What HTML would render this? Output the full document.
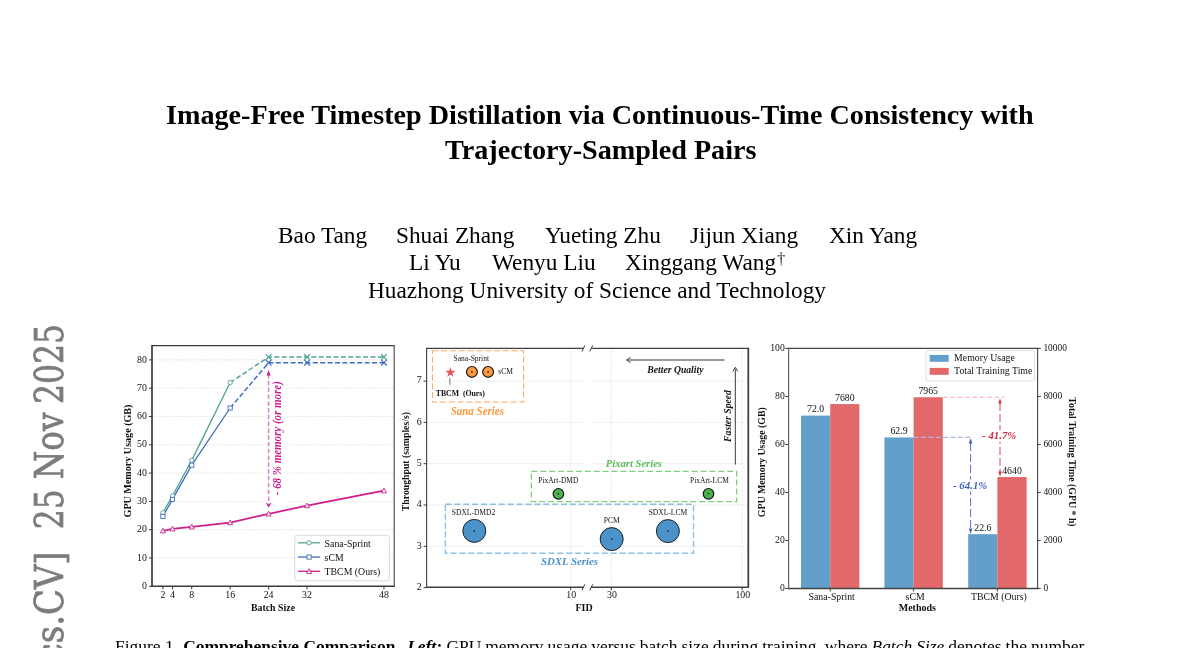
<!DOCTYPE html>
<html lang="en"><head><meta charset="utf-8"><title>Image-Free Timestep Distillation</title>
<style>
html,body{margin:0;padding:0;background:#fff;}
body{width:1200px;height:648px;overflow:hidden;position:relative;font-family:"Liberation Serif",serif;color:#000;}
.t{position:absolute;white-space:nowrap;line-height:1;}
.title{font-weight:bold;font-size:28.17px;}
.au{font-size:23.3px;}
.cap{font-size:17.45px;}
svg{position:absolute;left:0;top:0;will-change:transform;}
.t{will-change:transform;}
svg text{font-family:"Liberation Serif",serif;}
</style></head><body>

<div class="t title" style="left:166.4px;top:100.57px;">Image-Free Timestep Distillation via Continuous-Time Consistency with</div>
<div class="t title" style="left:445.2px;top:136.47px;">Trajectory-Sampled Pairs</div>
<div class="t au" style="left:277.5px;top:223.99px;">Bao Tang</div>
<div class="t au" style="left:396px;top:223.99px;">Shuai Zhang</div>
<div class="t au" style="left:545px;top:223.99px;">Yueting Zhu</div>
<div class="t au" style="left:690px;top:223.99px;">Jijun Xiang</div>
<div class="t au" style="left:828.5px;top:223.99px;">Xin Yang</div>
<div class="t au" style="left:409px;top:251.49px;">Li Yu</div>
<div class="t au" style="left:492px;top:251.49px;">Wenyu Liu</div>
<div class="t au" style="left:625px;top:251.49px;">Xinggang Wang<sup style="font-size:17.5px;line-height:0;vertical-align:5.6px;margin-left:0.6px;color:#3a3a3a">†</sup></div>
<div class="t au" style="left:367.5px;top:278.99px;">Huazhong University of Science and Technology</div>
<div class="t cap" style="left:114.6px;top:637.79px;"><span style="margin-right:0.8px">Figure 1.</span> <b>Comprehensive Comparison.</b> <b style="margin-left:3px"><i>Left:</i></b> <span style="word-spacing:-0.33px">GPU memory usage versus batch size during training, where <i>Batch Size</i> denotes the number</span></div>
<svg width="1200" height="648" viewBox="0 0 1200 648">
<text transform="translate(63.3,404.0) rotate(-90)" style="font-family:'DejaVu Serif',serif" font-size="38.9" textLength="80.0" lengthAdjust="spacingAndGlyphs" fill="#7c7c7c" stroke="#7c7c7c" stroke-width="0.7">2025</text>
<text transform="translate(63.3,479.2) rotate(-90)" style="font-family:'DejaVu Serif',serif" font-size="38.9" textLength="66.6" lengthAdjust="spacingAndGlyphs" fill="#7c7c7c" stroke="#7c7c7c" stroke-width="0.7">Nov</text>
<text transform="translate(63.3,529.2) rotate(-90)" style="font-family:'DejaVu Serif',serif" font-size="38.9" textLength="40.0" lengthAdjust="spacingAndGlyphs" fill="#7c7c7c" stroke="#7c7c7c" stroke-width="0.7">25</text>
<text transform="translate(63.3,675.4) rotate(-90)" style="font-family:'DejaVu Serif',serif" font-size="38.9" textLength="124" lengthAdjust="spacingAndGlyphs" fill="#7c7c7c" stroke="#7c7c7c" stroke-width="0.7">[cs.CV]</text>
<text transform="translate(63.3,1040) rotate(-90)" style="font-family:'DejaVu Serif',serif" font-size="38.9" textLength="340" lengthAdjust="spacingAndGlyphs" fill="#7c7c7c" stroke="#7c7c7c" stroke-width="0.7">arXiv:2511.20410v1</text>
<line x1="152.00" y1="558.00" x2="394.20" y2="558.00" stroke="#d4d4d4" stroke-width="0.8" stroke-dasharray="1.2 1.2" opacity="0.9"/>
<line x1="152.00" y1="529.70" x2="394.20" y2="529.70" stroke="#d4d4d4" stroke-width="0.8" stroke-dasharray="1.2 1.2" opacity="0.9"/>
<line x1="152.00" y1="501.40" x2="394.20" y2="501.40" stroke="#d4d4d4" stroke-width="0.8" stroke-dasharray="1.2 1.2" opacity="0.9"/>
<line x1="152.00" y1="473.10" x2="394.20" y2="473.10" stroke="#d4d4d4" stroke-width="0.8" stroke-dasharray="1.2 1.2" opacity="0.9"/>
<line x1="152.00" y1="444.80" x2="394.20" y2="444.80" stroke="#d4d4d4" stroke-width="0.8" stroke-dasharray="1.2 1.2" opacity="0.9"/>
<line x1="152.00" y1="416.50" x2="394.20" y2="416.50" stroke="#d4d4d4" stroke-width="0.8" stroke-dasharray="1.2 1.2" opacity="0.9"/>
<line x1="152.00" y1="388.20" x2="394.20" y2="388.20" stroke="#d4d4d4" stroke-width="0.8" stroke-dasharray="1.2 1.2" opacity="0.9"/>
<line x1="152.00" y1="359.90" x2="394.20" y2="359.90" stroke="#d4d4d4" stroke-width="0.8" stroke-dasharray="1.2 1.2" opacity="0.9"/>
<polyline fill="none" stroke="#4fa392" stroke-width="1.4" stroke-dasharray="5 2.4" points="230.17,382.54 268.61,357.07 307.05,357.07 383.93,357.07"/>
<polyline fill="none" stroke="#3f6cc0" stroke-width="1.5" stroke-dasharray="5 2.4" points="230.17,408.01 268.61,362.73 307.05,362.73 383.93,362.73"/>
<polyline fill="none" stroke="#4fa392" stroke-width="1.3"  points="162.90,512.72 172.51,495.74 191.73,460.36 230.17,382.54"/>
<polyline fill="none" stroke="#3f6cc0" stroke-width="1.3"  points="162.90,516.40 172.51,499.42 191.73,465.18 230.17,408.01"/>
<polyline fill="none" stroke="#cc1f8a" stroke-width="1.7"  points="162.90,530.83 172.51,528.85 191.73,526.87 230.17,522.62 268.61,513.85 307.05,505.64 383.93,490.65"/>
<circle cx="162.90" cy="512.72" r="2.2" fill="#fff" stroke="#4fa392" stroke-width="0.9"/>
<circle cx="172.51" cy="495.74" r="2.2" fill="#fff" stroke="#4fa392" stroke-width="0.9"/>
<circle cx="191.73" cy="460.36" r="2.2" fill="#fff" stroke="#4fa392" stroke-width="0.9"/>
<circle cx="230.17" cy="382.54" r="2.2" fill="#fff" stroke="#4fa392" stroke-width="0.9"/>
<rect x="160.80" y="514.30" width="4.2" height="4.2" fill="#fff" stroke="#3f6cc0" stroke-width="0.9"/>
<rect x="170.41" y="497.32" width="4.2" height="4.2" fill="#fff" stroke="#3f6cc0" stroke-width="0.9"/>
<rect x="189.63" y="463.08" width="4.2" height="4.2" fill="#fff" stroke="#3f6cc0" stroke-width="0.9"/>
<rect x="228.07" y="405.91" width="4.2" height="4.2" fill="#fff" stroke="#3f6cc0" stroke-width="0.9"/>
<path d="M162.90,528.23 L165.40,532.93 L160.40,532.93 Z" fill="#fff" stroke="#cc1f8a" stroke-width="0.9"/>
<path d="M172.51,526.25 L175.01,530.95 L170.01,530.95 Z" fill="#fff" stroke="#cc1f8a" stroke-width="0.9"/>
<path d="M191.73,524.27 L194.23,528.97 L189.23,528.97 Z" fill="#fff" stroke="#cc1f8a" stroke-width="0.9"/>
<path d="M230.17,520.02 L232.67,524.73 L227.67,524.73 Z" fill="#fff" stroke="#cc1f8a" stroke-width="0.9"/>
<path d="M268.61,511.25 L271.11,515.95 L266.11,515.95 Z" fill="#fff" stroke="#cc1f8a" stroke-width="0.9"/>
<path d="M307.05,503.04 L309.55,507.75 L304.55,507.75 Z" fill="#fff" stroke="#cc1f8a" stroke-width="0.9"/>
<path d="M383.93,488.05 L386.43,492.75 L381.43,492.75 Z" fill="#fff" stroke="#cc1f8a" stroke-width="0.9"/>
<path d="M265.81,354.27 L271.41,359.87 M265.81,359.87 L271.41,354.27" stroke="#4fa392" stroke-width="1.2" fill="none"/>
<path d="M304.25,354.27 L309.85,359.87 M304.25,359.87 L309.85,354.27" stroke="#4fa392" stroke-width="1.2" fill="none"/>
<path d="M381.13,354.27 L386.73,359.87 M381.13,359.87 L386.73,354.27" stroke="#4fa392" stroke-width="1.2" fill="none"/>
<path d="M265.81,359.93 L271.41,365.53 M265.81,365.53 L271.41,359.93" stroke="#3f6cc0" stroke-width="1.2" fill="none"/>
<path d="M304.25,359.93 L309.85,365.53 M304.25,365.53 L309.85,359.93" stroke="#3f6cc0" stroke-width="1.2" fill="none"/>
<path d="M381.13,359.93 L386.73,365.53 M381.13,365.53 L386.73,359.93" stroke="#3f6cc0" stroke-width="1.2" fill="none"/>
<rect x="265.6" y="378" width="21.6" height="125" fill="#fff"/>
<line x1="268.61" y1="374.00" x2="268.61" y2="503.50" stroke="#e486c3" stroke-width="1.6" stroke-dasharray="4.5 2.3"/>
<path d="M268.61,370.0 L270.61,375.4 L266.61,375.4 Z" fill="#cc1f8a"/>
<path d="M266.21,503.0 L268.61,507.3 L271.01,503.0 L268.61,504.4 Z" fill="#cc1f8a" stroke="#cc1f8a" stroke-width="0.5"/>
<text transform="translate(280.80,438.20) rotate(-90) scale(0.96,1)" font-size="11.43" text-anchor="middle" fill="#cc1f8a" font-weight="bold" font-style="italic">- 68 % memory (or more)</text>
<line x1="152.00" y1="345.05" x2="152.00" y2="587.10" stroke="#3c3c3c" stroke-width="1.7" />
<line x1="394.20" y1="345.05" x2="394.20" y2="587.10" stroke="#3c3c3c" stroke-width="1.05" />
<line x1="152.00" y1="345.70" x2="394.20" y2="345.70" stroke="#3c3c3c" stroke-width="1.3" />
<line x1="152.00" y1="586.30" x2="394.20" y2="586.30" stroke="#3c3c3c" stroke-width="1.6" />
<line x1="149.00" y1="586.30" x2="152.00" y2="586.30" stroke="#383838" stroke-width="1" />
<text transform="translate(147.00,588.90) scale(0.96,1)" font-size="10.31" text-anchor="end" fill="#111" >0</text>
<line x1="149.00" y1="558.00" x2="152.00" y2="558.00" stroke="#383838" stroke-width="1" />
<text transform="translate(147.00,560.60) scale(0.96,1)" font-size="10.31" text-anchor="end" fill="#111" >10</text>
<line x1="149.00" y1="529.70" x2="152.00" y2="529.70" stroke="#383838" stroke-width="1" />
<text transform="translate(147.00,532.30) scale(0.96,1)" font-size="10.31" text-anchor="end" fill="#111" >20</text>
<line x1="149.00" y1="501.40" x2="152.00" y2="501.40" stroke="#383838" stroke-width="1" />
<text transform="translate(147.00,504.00) scale(0.96,1)" font-size="10.31" text-anchor="end" fill="#111" >30</text>
<line x1="149.00" y1="473.10" x2="152.00" y2="473.10" stroke="#383838" stroke-width="1" />
<text transform="translate(147.00,475.70) scale(0.96,1)" font-size="10.31" text-anchor="end" fill="#111" >40</text>
<line x1="149.00" y1="444.80" x2="152.00" y2="444.80" stroke="#383838" stroke-width="1" />
<text transform="translate(147.00,447.40) scale(0.96,1)" font-size="10.31" text-anchor="end" fill="#111" >50</text>
<line x1="149.00" y1="416.50" x2="152.00" y2="416.50" stroke="#383838" stroke-width="1" />
<text transform="translate(147.00,419.10) scale(0.96,1)" font-size="10.31" text-anchor="end" fill="#111" >60</text>
<line x1="149.00" y1="388.20" x2="152.00" y2="388.20" stroke="#383838" stroke-width="1" />
<text transform="translate(147.00,390.80) scale(0.96,1)" font-size="10.31" text-anchor="end" fill="#111" >70</text>
<line x1="149.00" y1="359.90" x2="152.00" y2="359.90" stroke="#383838" stroke-width="1" />
<text transform="translate(147.00,362.50) scale(0.96,1)" font-size="10.31" text-anchor="end" fill="#111" >80</text>
<line x1="162.90" y1="586.30" x2="162.90" y2="589.30" stroke="#383838" stroke-width="1" />
<text transform="translate(162.90,598.20) scale(0.96,1)" font-size="10.31" text-anchor="middle" fill="#111" >2</text>
<line x1="172.51" y1="586.30" x2="172.51" y2="589.30" stroke="#383838" stroke-width="1" />
<text transform="translate(172.51,598.20) scale(0.96,1)" font-size="10.31" text-anchor="middle" fill="#111" >4</text>
<line x1="191.73" y1="586.30" x2="191.73" y2="589.30" stroke="#383838" stroke-width="1" />
<text transform="translate(191.73,598.20) scale(0.96,1)" font-size="10.31" text-anchor="middle" fill="#111" >8</text>
<line x1="230.17" y1="586.30" x2="230.17" y2="589.30" stroke="#383838" stroke-width="1" />
<text transform="translate(230.17,598.20) scale(0.96,1)" font-size="10.31" text-anchor="middle" fill="#111" >16</text>
<line x1="268.61" y1="586.30" x2="268.61" y2="589.30" stroke="#383838" stroke-width="1" />
<text transform="translate(268.61,598.20) scale(0.96,1)" font-size="10.31" text-anchor="middle" fill="#111" >24</text>
<line x1="307.05" y1="586.30" x2="307.05" y2="589.30" stroke="#383838" stroke-width="1" />
<text transform="translate(307.05,598.20) scale(0.96,1)" font-size="10.31" text-anchor="middle" fill="#111" >32</text>
<line x1="383.93" y1="586.30" x2="383.93" y2="589.30" stroke="#383838" stroke-width="1" />
<text transform="translate(383.93,598.20) scale(0.96,1)" font-size="10.31" text-anchor="middle" fill="#111" >48</text>
<text transform="translate(273.00,610.60) scale(0.96,1)" font-size="10.31" text-anchor="middle" fill="#111" font-weight="bold">Batch Size</text>
<text transform="translate(130.60,461.00) rotate(-90) scale(0.96,1)" font-size="10.52" text-anchor="middle" fill="#111" font-weight="bold">GPU Memory Usage (GB)</text>
<rect x="294.8" y="535.3" width="94.6" height="45.5" rx="2" fill="#fff" stroke="#d0d0d0" stroke-width="0.8"/>
<line x1="298.00" y1="542.80" x2="320.20" y2="542.80" stroke="#4fa392" stroke-width="1.3" />
<circle cx="309.1" cy="542.8" r="2.2" fill="#fff" stroke="#4fa392" stroke-width="0.9"/>
<text transform="translate(324.60,546.50) scale(0.96,1)" font-size="10.21" text-anchor="start" fill="#111" >Sana-Sprint</text>
<line x1="298.00" y1="557.05" x2="320.20" y2="557.05" stroke="#3f6cc0" stroke-width="1.3" />
<rect x="307.0" y="554.9499999999999" width="4.2" height="4.2" fill="#fff" stroke="#3f6cc0" stroke-width="0.9"/>
<text transform="translate(324.60,560.75) scale(0.96,1)" font-size="10.21" text-anchor="start" fill="#111" >sCM</text>
<line x1="298.00" y1="571.30" x2="320.20" y2="571.30" stroke="#cc1f8a" stroke-width="1.3" />
<path d="M309.1,568.6999999999999 L311.6,573.4 L306.6,573.4 Z" fill="#fff" stroke="#cc1f8a" stroke-width="0.9"/>
<text transform="translate(324.60,575.00) scale(0.96,1)" font-size="10.21" text-anchor="start" fill="#111" >TBCM (Ours)</text>
<line x1="426.60" y1="546.30" x2="583.00" y2="546.30" stroke="#d4d4d4" stroke-width="0.8" stroke-dasharray="1.2 1.2" opacity="0.9"/>
<line x1="591.50" y1="546.30" x2="748.30" y2="546.30" stroke="#d4d4d4" stroke-width="0.8" stroke-dasharray="1.2 1.2" opacity="0.9"/>
<line x1="426.60" y1="505.00" x2="583.00" y2="505.00" stroke="#d4d4d4" stroke-width="0.8" stroke-dasharray="1.2 1.2" opacity="0.9"/>
<line x1="591.50" y1="505.00" x2="748.30" y2="505.00" stroke="#d4d4d4" stroke-width="0.8" stroke-dasharray="1.2 1.2" opacity="0.9"/>
<line x1="426.60" y1="463.70" x2="583.00" y2="463.70" stroke="#d4d4d4" stroke-width="0.8" stroke-dasharray="1.2 1.2" opacity="0.9"/>
<line x1="591.50" y1="463.70" x2="748.30" y2="463.70" stroke="#d4d4d4" stroke-width="0.8" stroke-dasharray="1.2 1.2" opacity="0.9"/>
<line x1="426.60" y1="422.40" x2="583.00" y2="422.40" stroke="#d4d4d4" stroke-width="0.8" stroke-dasharray="1.2 1.2" opacity="0.9"/>
<line x1="591.50" y1="422.40" x2="748.30" y2="422.40" stroke="#d4d4d4" stroke-width="0.8" stroke-dasharray="1.2 1.2" opacity="0.9"/>
<line x1="426.60" y1="381.10" x2="583.00" y2="381.10" stroke="#d4d4d4" stroke-width="0.8" stroke-dasharray="1.2 1.2" opacity="0.9"/>
<line x1="591.50" y1="381.10" x2="748.30" y2="381.10" stroke="#d4d4d4" stroke-width="0.8" stroke-dasharray="1.2 1.2" opacity="0.9"/>
<line x1="570.70" y1="348.40" x2="570.70" y2="587.30" stroke="#d4d4d4" stroke-width="0.8" stroke-dasharray="1.2 1.2" opacity="0.9"/>
<line x1="611.30" y1="348.40" x2="611.30" y2="587.30" stroke="#d4d4d4" stroke-width="0.8" stroke-dasharray="1.2 1.2" opacity="0.9"/>
<line x1="742.20" y1="348.40" x2="742.20" y2="587.30" stroke="#d4d4d4" stroke-width="0.8" stroke-dasharray="1.2 1.2" opacity="0.9"/>
<line x1="426.60" y1="347.72" x2="426.60" y2="588.02" stroke="#404040" stroke-width="1.1" />
<line x1="748.30" y1="347.72" x2="748.30" y2="588.02" stroke="#404040" stroke-width="1.8" />
<line x1="426.60" y1="348.40" x2="583.40" y2="348.40" stroke="#404040" stroke-width="1.35" />
<line x1="591.20" y1="348.40" x2="748.30" y2="348.40" stroke="#404040" stroke-width="1.35" />
<line x1="426.60" y1="587.30" x2="583.40" y2="587.30" stroke="#404040" stroke-width="1.45" />
<line x1="591.20" y1="587.30" x2="748.30" y2="587.30" stroke="#404040" stroke-width="1.45" />
<line x1="581.90" y1="351.40" x2="584.90" y2="345.40" stroke="#383838" stroke-width="1" />
<line x1="581.90" y1="590.30" x2="584.90" y2="584.30" stroke="#383838" stroke-width="1" />
<line x1="589.70" y1="351.40" x2="592.70" y2="345.40" stroke="#383838" stroke-width="1" />
<line x1="589.70" y1="590.30" x2="592.70" y2="584.30" stroke="#383838" stroke-width="1" />
<line x1="423.60" y1="587.60" x2="426.60" y2="587.60" stroke="#383838" stroke-width="1" />
<text transform="translate(421.60,589.90) scale(0.96,1)" font-size="10.31" text-anchor="end" fill="#111" >2</text>
<line x1="423.60" y1="546.30" x2="426.60" y2="546.30" stroke="#383838" stroke-width="1" />
<text transform="translate(421.60,548.60) scale(0.96,1)" font-size="10.31" text-anchor="end" fill="#111" >3</text>
<line x1="423.60" y1="505.00" x2="426.60" y2="505.00" stroke="#383838" stroke-width="1" />
<text transform="translate(421.60,507.30) scale(0.96,1)" font-size="10.31" text-anchor="end" fill="#111" >4</text>
<line x1="423.60" y1="463.70" x2="426.60" y2="463.70" stroke="#383838" stroke-width="1" />
<text transform="translate(421.60,466.00) scale(0.96,1)" font-size="10.31" text-anchor="end" fill="#111" >5</text>
<line x1="423.60" y1="422.40" x2="426.60" y2="422.40" stroke="#383838" stroke-width="1" />
<text transform="translate(421.60,424.70) scale(0.96,1)" font-size="10.31" text-anchor="end" fill="#111" >6</text>
<line x1="423.60" y1="381.10" x2="426.60" y2="381.10" stroke="#383838" stroke-width="1" />
<text transform="translate(421.60,383.40) scale(0.96,1)" font-size="10.31" text-anchor="end" fill="#111" >7</text>
<line x1="570.70" y1="587.30" x2="570.70" y2="590.30" stroke="#383838" stroke-width="1" />
<text transform="translate(571.30,597.90) scale(0.96,1)" font-size="10.31" text-anchor="middle" fill="#111" >10</text>
<line x1="611.30" y1="587.30" x2="611.30" y2="590.30" stroke="#383838" stroke-width="1" />
<text transform="translate(611.90,597.90) scale(0.96,1)" font-size="10.31" text-anchor="middle" fill="#111" >30</text>
<line x1="742.20" y1="587.30" x2="742.20" y2="590.30" stroke="#383838" stroke-width="1" />
<text transform="translate(742.80,597.90) scale(0.96,1)" font-size="10.31" text-anchor="middle" fill="#111" >100</text>
<text transform="translate(584.00,610.80) scale(0.96,1)" font-size="10.42" text-anchor="middle" fill="#111" font-weight="bold">FID</text>
<text transform="translate(409.30,461.60) rotate(-90) scale(0.96,1)" font-size="10.16" text-anchor="middle" fill="#111" font-weight="bold">Throughput (samples/s)</text>
<rect x="432.4" y="350.8" width="91.2" height="51.2" fill="none" stroke="#ffa95c" stroke-width="1.1" stroke-dasharray="6 2.8"/>
<rect x="531.4" y="471.3" width="205.3" height="30.3" fill="none" stroke="#7fcf7f" stroke-width="1.3" stroke-dasharray="6 2.9"/>
<rect x="445.4" y="504.3" width="248.1" height="48.9" fill="none" stroke="#8cc0e4" stroke-width="1.4" stroke-dasharray="6 2.9"/>
<text transform="translate(477.30,414.80) scale(0.96,1)" font-size="11.41" text-anchor="middle" fill="#ff9a3e" font-weight="bold" font-style="italic">Sana Series</text>
<text transform="translate(633.90,466.90) scale(0.96,1)" font-size="11.04" text-anchor="middle" fill="#58bb58" font-weight="bold" font-style="italic">Pixart Series</text>
<text transform="translate(569.50,565.20) scale(0.96,1)" font-size="11.30" text-anchor="middle" fill="#4a92c9" font-weight="bold" font-style="italic">SDXL Series</text>
<circle cx="474.3" cy="530.9" r="11.5" fill="#4a92c9" stroke="#111" stroke-width="0.9"/>
<circle cx="474.3" cy="530.9" r="0.8" fill="#111"/>
<circle cx="611.7" cy="539.1" r="11.5" fill="#4a92c9" stroke="#111" stroke-width="0.9"/>
<circle cx="611.7" cy="539.1" r="0.8" fill="#111"/>
<circle cx="667.9" cy="531.1" r="11.5" fill="#4a92c9" stroke="#111" stroke-width="0.9"/>
<circle cx="667.9" cy="531.1" r="0.8" fill="#111"/>
<circle cx="558.4" cy="493.8" r="5.3" fill="#4db04d" stroke="#111" stroke-width="1.15"/>
<circle cx="558.4" cy="493.8" r="0.8" fill="#111"/>
<circle cx="708.5" cy="493.8" r="5.3" fill="#4db04d" stroke="#111" stroke-width="1.15"/>
<circle cx="708.5" cy="493.8" r="0.8" fill="#111"/>
<circle cx="471.9" cy="371.9" r="5.4" fill="#ff993e" stroke="#111" stroke-width="1.15"/>
<circle cx="471.9" cy="371.9" r="0.8" fill="#111"/>
<circle cx="488.1" cy="371.9" r="5.4" fill="#ff993e" stroke="#111" stroke-width="1.15"/>
<circle cx="488.1" cy="371.9" r="0.8" fill="#111"/>
<polygon points="450.40,367.00 451.63,370.80 455.63,370.80 452.40,373.15 453.63,376.95 450.40,374.60 447.17,376.95 448.40,373.15 445.17,370.80 449.17,370.80" fill="#e5575c"/>
<line x1="449.80" y1="377.80" x2="449.80" y2="384.80" stroke="#9a9a9a" stroke-width="1.4" />
<text transform="translate(473.50,515.00) scale(0.96,1)" font-size="7.86" text-anchor="middle" fill="#111" >SDXL-DMD2</text>
<text transform="translate(611.70,522.50) scale(0.96,1)" font-size="7.86" text-anchor="middle" fill="#111" >PCM</text>
<text transform="translate(667.90,515.00) scale(0.96,1)" font-size="7.86" text-anchor="middle" fill="#111" >SDXL-LCM</text>
<text transform="translate(558.40,482.70) scale(0.96,1)" font-size="7.86" text-anchor="middle" fill="#111" >PixArt-DMD</text>
<text transform="translate(709.40,482.70) scale(0.96,1)" font-size="7.86" text-anchor="middle" fill="#111" >PixArt-LCM</text>
<text transform="translate(471.30,360.50) scale(0.96,1)" font-size="7.86" text-anchor="middle" fill="#111" >Sana-Sprint</text>
<text transform="translate(498.30,374.30) scale(0.96,1)" font-size="7.86" text-anchor="start" fill="#111" >sCM</text>
<text transform="translate(435.70,396.00) scale(0.96,1)" font-size="8.12" text-anchor="start" fill="#111" font-weight="bold">TBCM&#160; (Ours)</text>
<line x1="724.50" y1="360.00" x2="628.50" y2="360.00" stroke="#222" stroke-width="0.9" />
<path d="M630.5,357.6 L626.4,360 L630.5,362.4" fill="none" stroke="#222" stroke-width="0.9"/>
<text transform="translate(675.40,372.60) scale(0.96,1)" font-size="10.07" text-anchor="middle" fill="#111" font-weight="bold" font-style="italic">Better Quality</text>
<line x1="735.30" y1="464.60" x2="735.30" y2="369.30" stroke="#222" stroke-width="0.9" />
<path d="M732.9,371.4 L735.3,367.3 L737.7,371.4" fill="none" stroke="#222" stroke-width="0.9"/>
<text transform="translate(730.60,416.00) rotate(-90) scale(0.96,1)" font-size="10.07" text-anchor="middle" fill="#111" font-weight="bold" font-style="italic">Faster Speed</text>
<rect x="801.00" y="415.60" width="29.2" height="172.80" fill="#62a0cb"/>
<rect x="830.20" y="404.08" width="29.2" height="184.32" fill="#e2686a"/>
<text transform="translate(815.60,412.40) scale(0.96,1)" font-size="10.21" text-anchor="middle" fill="#111" >72.0</text>
<text transform="translate(844.80,400.88) scale(0.96,1)" font-size="10.21" text-anchor="middle" fill="#111" >7680</text>
<line x1="830.20" y1="588.40" x2="830.20" y2="591.40" stroke="#383838" stroke-width="1" />
<text transform="translate(831.70,599.60) scale(0.96,1)" font-size="10.21" text-anchor="middle" fill="#111" >Sana-Sprint</text>
<rect x="884.40" y="437.44" width="29.2" height="150.96" fill="#62a0cb"/>
<rect x="913.60" y="397.24" width="29.2" height="191.16" fill="#e2686a"/>
<text transform="translate(899.00,434.24) scale(0.96,1)" font-size="10.21" text-anchor="middle" fill="#111" >62.9</text>
<text transform="translate(928.20,394.04) scale(0.96,1)" font-size="10.21" text-anchor="middle" fill="#111" >7965</text>
<line x1="913.60" y1="588.40" x2="913.60" y2="591.40" stroke="#383838" stroke-width="1" />
<text transform="translate(915.10,599.60) scale(0.96,1)" font-size="10.21" text-anchor="middle" fill="#111" >sCM</text>
<rect x="968.20" y="534.16" width="29.2" height="54.24" fill="#62a0cb"/>
<rect x="997.40" y="477.04" width="29.2" height="111.36" fill="#e2686a"/>
<text transform="translate(982.80,530.96) scale(0.96,1)" font-size="10.21" text-anchor="middle" fill="#111" >22.6</text>
<text transform="translate(1012.00,473.84) scale(0.96,1)" font-size="10.21" text-anchor="middle" fill="#111" >4640</text>
<line x1="997.40" y1="588.40" x2="997.40" y2="591.40" stroke="#383838" stroke-width="1" />
<text transform="translate(998.90,599.60) scale(0.96,1)" font-size="10.21" text-anchor="middle" fill="#111" >TBCM (Ours)</text>
<text transform="translate(917.30,611.40) scale(0.96,1)" font-size="10.42" text-anchor="middle" fill="#111" font-weight="bold">Methods</text>
<line x1="913.60" y1="437.44" x2="970.60" y2="437.44" stroke="#a9bbe2" stroke-width="1.2" stroke-dasharray="4.8 2.6"/>
<line x1="970.60" y1="443.00" x2="970.60" y2="529.00" stroke="#5572c4" stroke-width="1.0" stroke-dasharray="8 3"/>
<path d="M970.6,438.2 L972.4,443.4 L968.8,443.4 Z" fill="#4463b8"/>
<path d="M970.6,533.8 L972.4,528.6 L968.8,528.6 Z" fill="#4463b8"/>
<line x1="942.80" y1="397.24" x2="1004.30" y2="397.24" stroke="#f8c9ce" stroke-width="1.5" stroke-dasharray="4.8 2.6"/>
<line x1="1000.00" y1="403.00" x2="1000.00" y2="472.00" stroke="#dc4c5c" stroke-width="1.0" stroke-dasharray="8 3"/>
<path d="M1000,398.4 L1001.8,403.6 L998.2,403.6 Z" fill="#cf2e40"/>
<path d="M1000,476.6 L1001.8,471.4 L998.2,471.4 Z" fill="#cf2e40"/>
<rect x="952" y="479.5" width="37" height="12" fill="#fff"/>
<text transform="translate(970.20,488.50) scale(0.96,1)" font-size="11.30" text-anchor="middle" fill="#4463b8" font-weight="bold" font-style="italic">- 64.1%</text>
<rect x="981" y="430" width="37" height="12" fill="#fff"/>
<text transform="translate(999.20,439.20) scale(0.96,1)" font-size="11.20" text-anchor="middle" fill="#cf2e40" font-weight="bold" font-style="italic">- 41.7%</text>
<line x1="788.70" y1="347.75" x2="788.70" y2="589.35" stroke="#444" stroke-width="1.0" />
<line x1="1037.60" y1="347.75" x2="1037.60" y2="589.35" stroke="#444" stroke-width="1.1" />
<line x1="788.70" y1="348.40" x2="1037.60" y2="348.40" stroke="#444" stroke-width="1.3" />
<line x1="788.70" y1="588.60" x2="1037.60" y2="588.60" stroke="#444" stroke-width="1.5" />
<line x1="785.20" y1="588.40" x2="788.20" y2="588.40" stroke="#383838" stroke-width="1" />
<text transform="translate(784.80,590.80) scale(0.96,1)" font-size="10.10" text-anchor="end" fill="#111" >0</text>
<line x1="1037.80" y1="588.40" x2="1040.80" y2="588.40" stroke="#383838" stroke-width="1" />
<text transform="translate(1043.40,591.30) scale(0.96,1)" font-size="9.79" text-anchor="start" fill="#111" >0</text>
<line x1="785.20" y1="540.40" x2="788.20" y2="540.40" stroke="#383838" stroke-width="1" />
<text transform="translate(784.80,542.80) scale(0.96,1)" font-size="10.10" text-anchor="end" fill="#111" >20</text>
<line x1="1037.80" y1="540.40" x2="1040.80" y2="540.40" stroke="#383838" stroke-width="1" />
<text transform="translate(1043.40,543.30) scale(0.96,1)" font-size="9.79" text-anchor="start" fill="#111" >2000</text>
<line x1="785.20" y1="492.40" x2="788.20" y2="492.40" stroke="#383838" stroke-width="1" />
<text transform="translate(784.80,494.80) scale(0.96,1)" font-size="10.10" text-anchor="end" fill="#111" >40</text>
<line x1="1037.80" y1="492.40" x2="1040.80" y2="492.40" stroke="#383838" stroke-width="1" />
<text transform="translate(1043.40,495.30) scale(0.96,1)" font-size="9.79" text-anchor="start" fill="#111" >4000</text>
<line x1="785.20" y1="444.40" x2="788.20" y2="444.40" stroke="#383838" stroke-width="1" />
<text transform="translate(784.80,446.80) scale(0.96,1)" font-size="10.10" text-anchor="end" fill="#111" >60</text>
<line x1="1037.80" y1="444.40" x2="1040.80" y2="444.40" stroke="#383838" stroke-width="1" />
<text transform="translate(1043.40,447.30) scale(0.96,1)" font-size="9.79" text-anchor="start" fill="#111" >6000</text>
<line x1="785.20" y1="396.40" x2="788.20" y2="396.40" stroke="#383838" stroke-width="1" />
<text transform="translate(784.80,398.80) scale(0.96,1)" font-size="10.10" text-anchor="end" fill="#111" >80</text>
<line x1="1037.80" y1="396.40" x2="1040.80" y2="396.40" stroke="#383838" stroke-width="1" />
<text transform="translate(1043.40,399.30) scale(0.96,1)" font-size="9.79" text-anchor="start" fill="#111" >8000</text>
<line x1="785.20" y1="348.40" x2="788.20" y2="348.40" stroke="#383838" stroke-width="1" />
<text transform="translate(784.80,350.80) scale(0.96,1)" font-size="10.10" text-anchor="end" fill="#111" >100</text>
<line x1="1037.80" y1="348.40" x2="1040.80" y2="348.40" stroke="#383838" stroke-width="1" />
<text transform="translate(1043.40,351.30) scale(0.96,1)" font-size="9.79" text-anchor="start" fill="#111" >10000</text>
<text transform="translate(765.40,462.20) rotate(-90) scale(0.96,1)" font-size="10.26" text-anchor="middle" fill="#111" font-weight="bold">GPU Memory Usage (GB)</text>
<text transform="translate(1069.00,462.00) rotate(90) scale(0.96,1)" font-size="10.26" text-anchor="middle" fill="#111" font-weight="bold">Total Training Time (GPU * h)</text>
<rect x="926" y="350.6" width="108.5" height="30.4" rx="2" fill="#fff" stroke="#d8d8d8" stroke-width="0.8"/>
<rect x="929.7" y="354.9" width="19" height="6.9" fill="#62a0cb"/>
<rect x="929.7" y="367.9" width="19" height="6.9" fill="#e2686a"/>
<text transform="translate(954.10,360.50) scale(0.96,1)" font-size="10.21" text-anchor="start" fill="#111" >Memory Usage</text>
<text transform="translate(954.10,373.50) scale(0.96,1)" font-size="10.21" text-anchor="start" fill="#111" >Total Training Time</text>
</svg></body></html>
